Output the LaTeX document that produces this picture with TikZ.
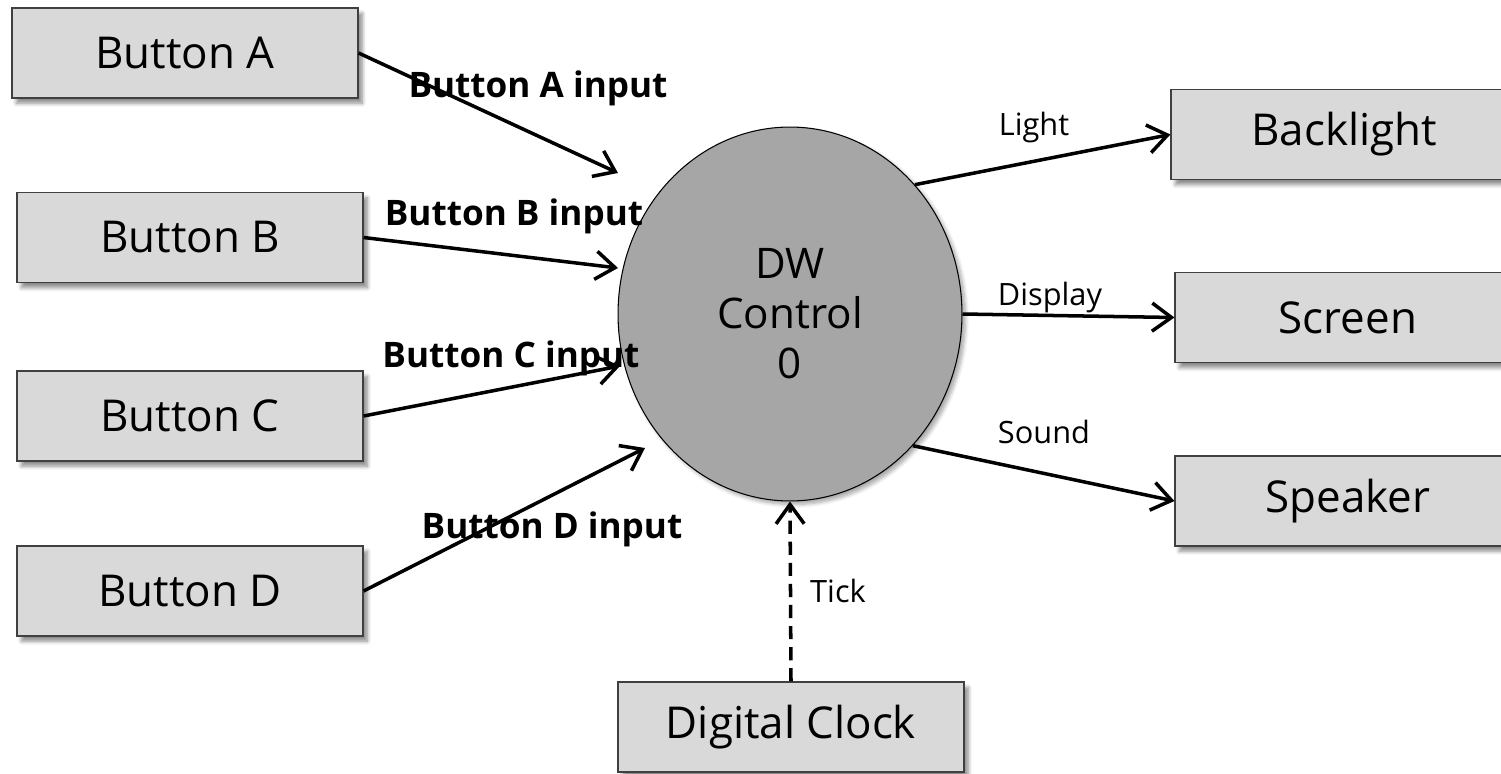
\documentclass[tikz,border=0pt]{standalone}
\usepackage{fontspec}
\setmainfont{Open Sans}
\usetikzlibrary{shapes.geometric,arrows.meta,shadows.blur}

\begin{document}
\begin{tikzpicture}[x=0.02cm, y=-0.02cm,
    box/.style={draw=black!75, fill=black!15, line width=0.7pt, minimum width=6.92cm, minimum height=1.8cm, inner sep=0pt,
      font=\fontsize{25}{30}\selectfont,
      blur shadow={shadow xshift=2.5pt, shadow yshift=-3pt, shadow blur steps=6, shadow opacity=45}},
    flow/.style={-{Straight Barb[length=11pt, width=16pt]}, line width=2pt},
    inlbl/.style={anchor=base, font=\bfseries\fontsize{20}{24}\selectfont, inner sep=0pt},
    outlbl/.style={anchor=base, font=\fontsize{17.5}{21}\selectfont, inner sep=0pt}]
    \useasboundingbox (0,0) rectangle (1501,774);

      \node[box] (btnA) at (185,53) {Button A};
      \node[box] (btnB) at (190,237.5) {Button B};
      \node[box] (btnC) at (190,416) {Button C};
      \node[box] (btnD) at (190,591) {Button D};

      \node[ellipse, draw=black, fill=black!35, line width=0.6pt, minimum width=6.88cm, minimum height=7.48cm, inner sep=0pt,
        align=center, font=\fontsize{24}{28.4}\selectfont,
        blur shadow={shadow xshift=2pt, shadow yshift=-2pt, shadow blur steps=6, shadow opacity=35}] (ctrl) at (790,314) {DW\\Control\\0};

      \node[box] (backlight) at (1344,134.5) {Backlight};
      \node[box] (screen) at (1348,317.5) {Screen};
      \node[box] (speaker) at (1348,501) {Speaker};
      \node[box] (clock) at (791,727) {Digital Clock};

      \coordinate (inA) at (618,173);
      \coordinate (inB) at (618,268);
      \coordinate (inC) at (620,366);
      \coordinate (inD) at (645,448);

      \draw[flow] (btnA.east) -- (inA);
      \draw[flow] (btnB.east) -- (inB);
      \draw[flow] (btnC.east) -- (inC);
      \draw[flow] (btnD.east) -- (inD);
      \draw[flow] (ctrl.46) -- (backlight.west);
      \draw[flow] (ctrl.east) -- (screen.west);
      \draw[flow] (ctrl.-47) -- (speaker.west);
      \draw[flow, dash pattern=on 7.5pt off 4.5pt] (clock.north) -- (ctrl.south);

      \node[inlbl] (lblA) at (538,97) {Button A input};
      \node[inlbl] (lblB) at (514,225) {Button B input};
      \node[inlbl] (lblC) at (511,367) {Button C input};
      \node[inlbl] (lblD) at (552,538) {Button D input};
      \node[outlbl] (light) at (1034,135) {Light};
      \node[outlbl] (display) at (1050,305) {Display};
      \node[outlbl] (sound) at (1044,443) {Sound};
      \node[outlbl] (tick) at (838,602) {Tick};
\end{tikzpicture}
\end{document}
